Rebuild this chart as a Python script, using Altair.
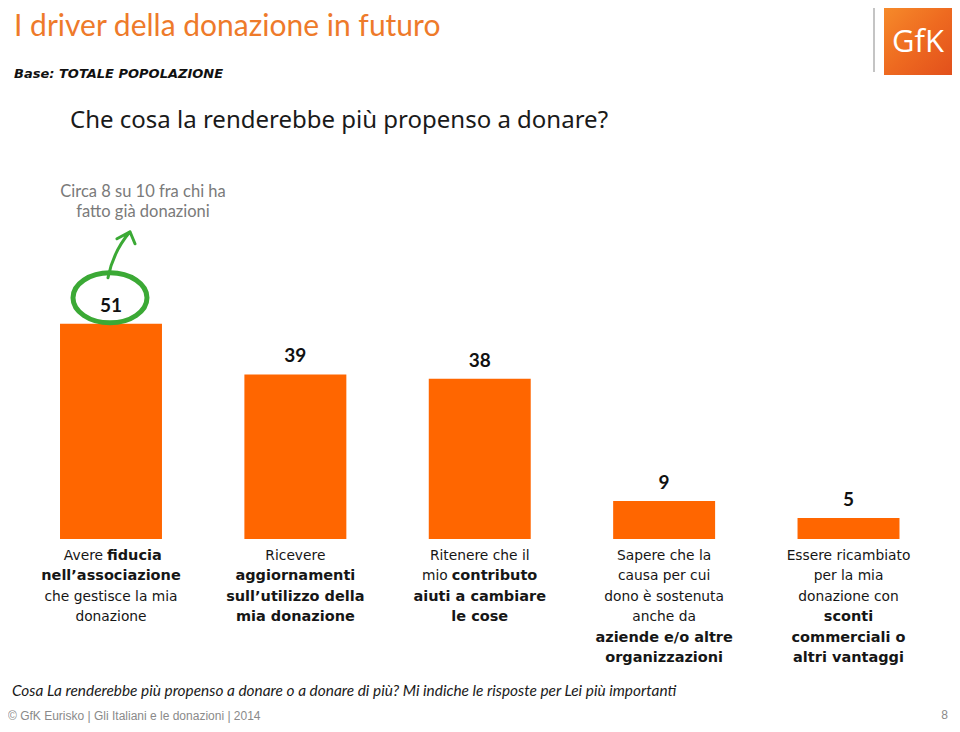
import altair as alt
import pandas as pd

# ---------------- data ----------------
cat_ids = ["c1", "c2", "c3", "c4", "c5"]
values = [51, 39, 38, 9, 5]

# each category label: list of lines, each line a list of (text, bold)
label_lines = [
    [[("Avere", 0), ("fiducia", 1)], [("nell’associazione", 1)], [("che gestisce la mia", 0)], [("donazione", 0)]],
    [[("Ricevere", 0)], [("aggiornamenti", 1)], [("sull’utilizzo della", 1)], [("mia donazione", 1)]],
    [[("Ritenere che il", 0)], [("mio", 0), ("contributo", 1)], [("aiuti a cambiare", 1)], [("le cose", 1)]],
    [[("Sapere che la", 0)], [("causa per cui", 0)], [("dono è sostenuta", 0)], [("anche da", 0)],
     [("aziende e/o altre", 1)], [("organizzazioni", 1)]],
    [[("Essere ricambiato", 0)], [("per la mia", 0)], [("donazione con", 0)], [("sconti", 1)],
     [("commerciali o", 1)], [("altri vantaggi", 1)]],
]

title_text = "I driver della donazione in futuro"
base_text = "Base: TOTALE POPOLAZIONE"
question_text = "Che cosa la renderebbe più propenso a donare?"
note_text = "Circa 8 su 10 fra chi ha\nfatto già donazioni"
footnote_text = "Cosa La renderebbe più propenso a donare o a donare di più? Mi indiche le risposte per Lei più importanti"
footer_text = "© GfK Eurisko | Gli Italiani e le donazioni |   2014"
page_text = "8"
logo_text = "GfK"

# ---------------- style ----------------
FONT = "Lato"
LFONT = "DejaVu Sans"
ORANGE = "#FF6600"
TITLE_ORANGE = "#EE7A2A"
GREEN = "#3BA935"
W, H = 944, 716
OFF = 8  # page margin


def px(v):
    return v - OFF


# split offsets (dx of regular part end, dx of bold part start) for mixed lines
split_dx = {(0, 0): (-8, -4), (2, 1): (-32, -28)}

bars_df = pd.DataFrame({"cat": cat_ids, "value": values})

x_scale = alt.Scale(domain=cat_ids, range=[px(18.8), px(940.7)],
                    paddingInner=0.447, paddingOuter=0.2235)
y_scale = alt.Scale(domain=[0, 100], range=[px(539), px(539 - 422)], nice=False)
x_enc = alt.X("cat:N", scale=x_scale, axis=None, sort=cat_ids)

bars = alt.Chart(bars_df).mark_bar(color=ORANGE).encode(
    x=x_enc, y=alt.Y("value:Q", scale=y_scale, axis=None)
)
vals = alt.Chart(bars_df).mark_text(
    dy=-18, font=FONT, fontSize=19, fontWeight="bold", color="#111", baseline="middle"
).encode(x=x_enc, y=alt.Y("value:Q", scale=y_scale, axis=None), text="value:Q")

# green ellipse + arrow drawn as custom symbols anchored on the first bar
R = 37.0
k = 0.5523
ecx, ecy, erx, ery = -1 / R, -26 / R, 1.0, 25 / R
ellipse_path = (
    f"M {ecx+erx:.3f} {ecy:.3f} "
    f"C {ecx+erx:.3f} {ecy+k*ery:.3f} {ecx+k*erx:.3f} {ecy+ery:.3f} {ecx:.3f} {ecy+ery:.3f} "
    f"C {ecx-k*erx:.3f} {ecy+ery:.3f} {ecx-erx:.3f} {ecy+k*ery:.3f} {ecx-erx:.3f} {ecy:.3f} "
    f"C {ecx-erx:.3f} {ecy-k*ery:.3f} {ecx-k*erx:.3f} {ecy-ery:.3f} {ecx:.3f} {ecy-ery:.3f} "
    f"C {ecx+k*erx:.3f} {ecy-ery:.3f} {ecx+erx:.3f} {ecy-k*ery:.3f} {ecx+erx:.3f} {ecy:.3f} Z"
)
arrow_path = (
    f"M {-3/R:.3f} {-46/R:.3f} Q {2/R:.3f} {-72/R:.3f} {19/R:.3f} {-92/R:.3f} "
    f"M {6/R:.3f} {-85/R:.3f} L {19/R:.3f} {-92/R:.3f} L {24/R:.3f} {-80/R:.3f}"
)
first_df = bars_df.iloc[[0]]
ellipse = alt.Chart(first_df).mark_point(
    shape=ellipse_path, filled=False, stroke=GREEN, strokeWidth=5, opacity=1,
    size=(2 * R) ** 2,
).encode(x=x_enc, y=alt.Y("value:Q", scale=y_scale, axis=None))
arrow = alt.Chart(first_df).mark_point(
    shape=arrow_path, filled=False, stroke=GREEN, strokeWidth=3, opacity=1,
    size=(2 * R) ** 2, strokeCap="round", strokeJoin="round",
).encode(x=x_enc, y=alt.Y("value:Q", scale=y_scale, axis=None))

# category labels
rows_c, rows_mixed = [], []
for ci, lines in enumerate(label_lines):
    for li, segs in enumerate(lines):
        if len(segs) == 1:
            rows_c.append({"cat": cat_ids[ci], "line": li, "t": segs[0][0], "bold": segs[0][1]})
        else:
            rows_mixed.append((ci, li, segs))
lab_df = pd.DataFrame(rows_c)
ly_scale = alt.Scale(domain=[0, 5], range=[px(556), px(556 + 5 * 20.4)], nice=False, zero=False)
ly_enc = alt.Y("line:Q", scale=ly_scale, axis=None)


def lab_layer(df, weight, align="center", dx=0):
    size = 14.5 if weight == "bold" else 13.8
    return alt.Chart(df).mark_text(
        font=LFONT, fontSize=size, fontWeight=weight, color="#161616",
        baseline="middle", align=align, dx=dx,
    ).encode(x=x_enc, y=ly_enc, text="t:N")


label_layers = [
    lab_layer(lab_df[lab_df.bold == 0], "normal"),
    lab_layer(lab_df[lab_df.bold == 1], "bold"),
]
for ci, li, segs in rows_mixed:
    d1, d2 = split_dx[(ci, li)]
    label_layers.append(lab_layer(pd.DataFrame([{"cat": cat_ids[ci], "line": li, "t": segs[0][0]}]),
                                  "normal", "right", d1))
    label_layers.append(lab_layer(pd.DataFrame([{"cat": cat_ids[ci], "line": li, "t": segs[1][0]}]),
                                  "bold", "left", d2))


def text_layer(t, x, y, **kw):
    return alt.Chart(pd.DataFrame({"t": [t]})).mark_text(**kw).encode(
        text="t:N", x=alt.value(x), y=alt.value(y)
    )


title = text_layer(title_text, px(14), px(12), font=FONT, fontSize=30, color=TITLE_ORANGE,
                   align="left", baseline="top")
base = text_layer(base_text, px(14), px(74), font=LFONT, fontSize=13, fontWeight="bold",
                  fontStyle="italic", color="#111", align="left", baseline="middle")
question = text_layer(question_text, px(70), px(121), font="Noto Sans", fontSize=24,
                      color="#1a1a1a", align="left", baseline="middle")
note = text_layer(note_text, px(143), px(192), font=FONT, fontSize=16.5, color="#7a7a7a",
                  align="center", baseline="middle", lineBreak="\n", lineHeight=20)
footnote = text_layer(footnote_text, px(12), px(691), font=FONT, fontSize=15.4, fontStyle="italic",
                      color="#1a1a1a", align="left", baseline="middle")
footer = text_layer(footer_text, px(8), px(716), font="Liberation Sans", fontSize=12,
                    color="#8a8a8a", align="left", baseline="middle")
pagenum = text_layer(page_text, px(948), px(715), font="Liberation Sans", fontSize=12,
                     color="#8a8a8a", align="right", baseline="middle")

logo_grad = alt.Gradient(
    gradient="linear", x1=0, y1=0, x2=1, y2=1,
    stops=[alt.GradientStop(color="#F68A2A", offset=0),
           alt.GradientStop(color="#EE6A20", offset=0.5),
           alt.GradientStop(color="#E2501C", offset=1)],
)
logo_box = alt.Chart(pd.DataFrame({"t": [logo_text]})).mark_rect(color=logo_grad).encode(
    x=alt.value(px(884)), x2=alt.value(px(952)), y=alt.value(px(8)), y2=alt.value(px(75))
)
logo_txt = text_layer(logo_text, px(918), px(43), font="Open Sans", fontSize=31, color="white",
                      align="center", baseline="middle")
logo_line = alt.Chart(pd.DataFrame({"t": [logo_text]})).mark_rule(color="#b0b0b0", strokeWidth=1.5).encode(
    x=alt.value(px(874)), y=alt.value(px(8)), y2=alt.value(px(72))
)

chart = alt.layer(
    bars, vals, ellipse, arrow, *label_layers,
    title, base, question, note, footnote, footer, pagenum,
    logo_line, logo_box, logo_txt,
).resolve_scale(y="independent").properties(
    width=W, height=H, autosize=alt.AutoSizeParams(type="none"), padding=0,
    background="white",
).configure_view(stroke=None)

chart.save("out.html", embed_options={"renderer": "svg", "actions": False})
